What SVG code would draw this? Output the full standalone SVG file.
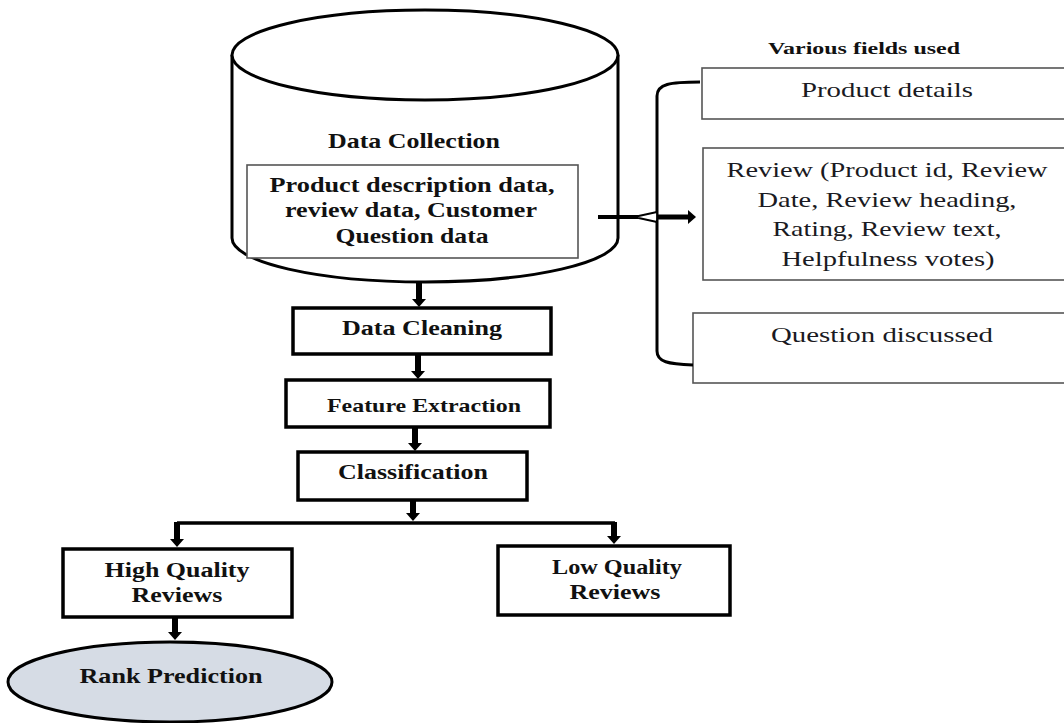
<svg xmlns="http://www.w3.org/2000/svg" width="1064" height="723" viewBox="0 0 1064 723">
<style>
.bg{fill:#fff}
.box{fill:#fff;stroke:#000;stroke-width:3.5}
.thin{fill:#fff;stroke:#555;stroke-width:1.6}
.cyl{fill:#fff;stroke:#000;stroke-width:3}
.b{font-family:"Liberation Serif","Times New Roman",serif;font-weight:bold;fill:#111;text-anchor:middle}
.r{font-family:"Liberation Serif","Times New Roman",serif;fill:#1a1a22;text-anchor:middle}
.ln{fill:none;stroke:#000;stroke-width:3}
.ar{fill:none;stroke:#000;stroke-width:6}
</style>
<defs>
<marker id="ah" viewBox="0 0 8 14" refX="2" refY="7" markerWidth="8" markerHeight="14" markerUnits="userSpaceOnUse" orient="auto">
<path d="M0,0 L8,7 L0,14 Z" fill="#000"/>
</marker>
</defs>
<rect class="bg" x="0" y="0" width="1064" height="723"/>

<g id="data-collection">
<path class="cyl" d="M232,55 L232,238 A193,44 0 0 0 618,238 L618,55"/>
<ellipse class="cyl" cx="425" cy="55" rx="193" ry="45"/>
<text class="b" x="414" y="148" font-size="21" textLength="172" lengthAdjust="spacingAndGlyphs">Data Collection</text>
<rect class="thin" x="247" y="165" width="331" height="93"/>
<text class="b" x="412" y="192" font-size="21" textLength="285" lengthAdjust="spacingAndGlyphs">Product description data,</text>
<text class="b" x="411" y="217" font-size="21" textLength="252" lengthAdjust="spacingAndGlyphs">review data, Customer</text>
<text class="b" x="412" y="243" font-size="21" textLength="153" lengthAdjust="spacingAndGlyphs">Question data</text>
</g>

<g id="fields-title">
<text class="b" x="864" y="54" font-size="17" textLength="192" lengthAdjust="spacingAndGlyphs">Various fields used</text>
</g>

<g id="product-details">
<rect class="thin" x="702" y="68" width="370" height="51"/>
<text class="r" x="887" y="97" font-size="21" textLength="172" lengthAdjust="spacingAndGlyphs">Product details</text>
</g>

<g id="review-fields">
<rect class="thin" x="703" y="148" width="370" height="132"/>
<text class="r" x="887" y="177" font-size="21" textLength="321" lengthAdjust="spacingAndGlyphs">Review (Product id, Review</text>
<text class="r" x="887" y="207" font-size="21" textLength="259" lengthAdjust="spacingAndGlyphs">Date, Review heading,</text>
<text class="r" x="887" y="236" font-size="21" textLength="229" lengthAdjust="spacingAndGlyphs">Rating, Review text,</text>
<text class="r" x="888" y="266" font-size="21" textLength="213" lengthAdjust="spacingAndGlyphs">Helpfulness votes)</text>
</g>

<g id="question-discussed">
<rect class="thin" x="693" y="313" width="380" height="70"/>
<text class="r" x="882" y="342" font-size="21" textLength="222" lengthAdjust="spacingAndGlyphs">Question discussed</text>
</g>

<g id="data-cleaning">
<rect class="box" x="293" y="308" width="258" height="46"/>
<text class="b" x="422" y="335" font-size="20" textLength="160" lengthAdjust="spacingAndGlyphs">Data Cleaning</text>
</g>

<g id="feature-extraction">
<rect class="box" x="286" y="380" width="264" height="47"/>
<text class="b" x="424" y="412" font-size="19" textLength="194" lengthAdjust="spacingAndGlyphs">Feature Extraction</text>
</g>

<g id="classification">
<rect class="box" x="298" y="452" width="229" height="48"/>
<text class="b" x="413" y="479" font-size="20" textLength="150" lengthAdjust="spacingAndGlyphs">Classification</text>
</g>

<g id="high-quality">
<rect class="box" x="63" y="549" width="229" height="68"/>
<text class="b" x="177" y="577" font-size="20" textLength="145" lengthAdjust="spacingAndGlyphs">High Quality</text>
<text class="b" x="177" y="602" font-size="20" textLength="91" lengthAdjust="spacingAndGlyphs">Reviews</text>
</g>

<g id="low-quality">
<rect class="box" x="498" y="546" width="232" height="69"/>
<text class="b" x="617" y="574" font-size="20" textLength="130" lengthAdjust="spacingAndGlyphs">Low Quality</text>
<text class="b" x="615" y="599" font-size="20" textLength="91" lengthAdjust="spacingAndGlyphs">Reviews</text>
</g>

<g id="rank-prediction">
<ellipse cx="170" cy="682" rx="162" ry="40" fill="#d6dce5" stroke="#000" stroke-width="3"/>
<text class="b" x="171" y="683" font-size="21" textLength="183" lengthAdjust="spacingAndGlyphs">Rank Prediction</text>
</g>

<g id="connectors">
<path class="ln" d="M700,82 C670,82 657,84 657,96 L657,351 C657,362 668,364 693,365"/>
<line x1="598" y1="217" x2="638" y2="217" stroke="#000" stroke-width="4"/>
<path d="M634,217 L657,212 L657,222 Z" fill="#fff" stroke="#000" stroke-width="1.8" stroke-linejoin="round"/>
<line class="ar" x1="657" y1="217" x2="690" y2="217" marker-end="url(#ah)" style="stroke-width:5"/>
<line class="ar" x1="419" y1="283" x2="419" y2="301" marker-end="url(#ah)"/>
<line class="ar" x1="418" y1="354" x2="418" y2="373" marker-end="url(#ah)"/>
<line class="ar" x1="415" y1="427" x2="415" y2="445" marker-end="url(#ah)"/>
<line class="ar" x1="413" y1="500" x2="413" y2="515" marker-end="url(#ah)"/>
<path class="ln" d="M177,523 L615,523" style="stroke-width:3.5"/>
<line class="ar" x1="177" y1="522" x2="177" y2="541" marker-end="url(#ah)"/>
<line class="ar" x1="614" y1="522" x2="614" y2="538" marker-end="url(#ah)"/>
<line class="ar" x1="175" y1="618" x2="175" y2="634" marker-end="url(#ah)"/>
</g>
</svg>
